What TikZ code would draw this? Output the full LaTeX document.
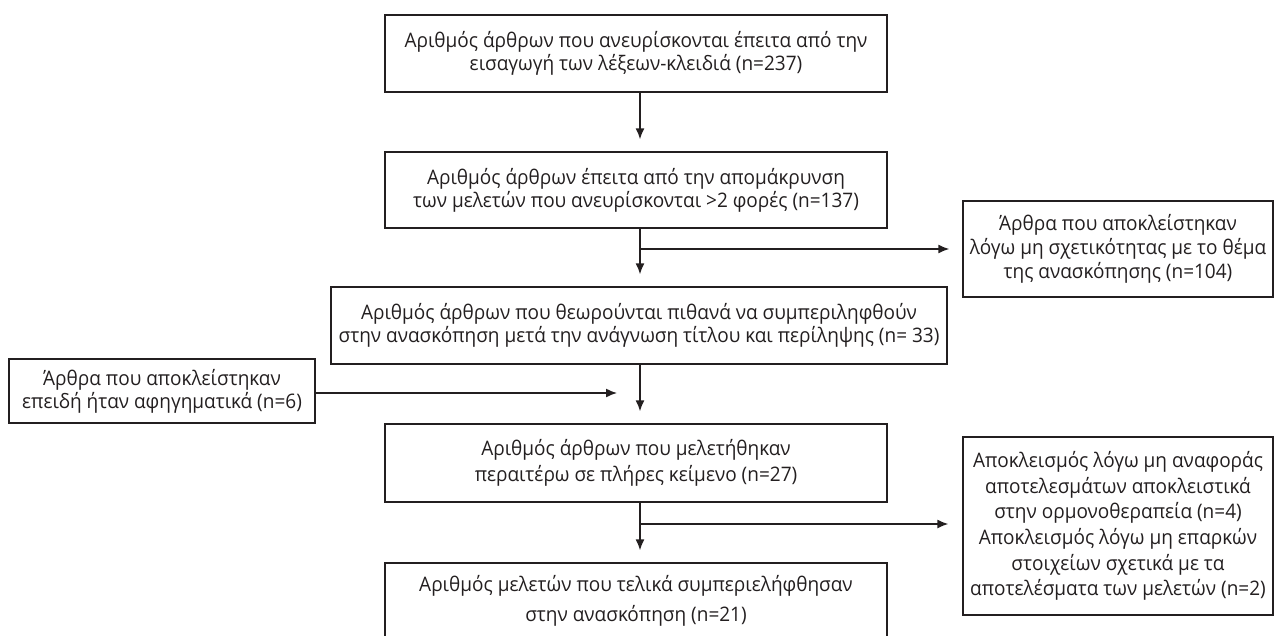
\documentclass[tikz,border=0pt]{standalone}
\usepackage{fontspec}
\setmainfont[FakeStretch=0.95]{Open Sans}
\usetikzlibrary{arrows.meta}
\definecolor{ink}{HTML}{231F20}
\tikzset{
  box/.style={draw=ink, line width=1.4pt, align=center, inner sep=0pt, text=ink,
    font=\fontsize{20}{23}\selectfont},
  arr/.style={draw=ink, line width=1.4pt, -{Latex[length=11pt,width=9pt]}},
}
\begin{document}
\begin{tikzpicture}[x=1pt,y=-1pt]
\useasboundingbox (0,0) rectangle (1274,635);
\node[box, minimum width=502pt, minimum height=77pt] (b1) at (636,53.5)
  {Αριθμός άρθρων που ανευρίσκονται έπειτα από την\\εισαγωγή των λέξεων-κλειδιά (n=237)};
\node[box, minimum width=502pt, minimum height=76pt] (b2) at (636,190)
  {Αριθμός άρθρων έπειτα από την απομάκρυνση\\των μελετών που ανευρίσκονται >2 φορές (n=137)};
\node[box, minimum width=310pt, minimum height=96pt, font=\fontsize{20}{24}\selectfont] (b3) at (1118,249)
  {Άρθρα που αποκλείστηκαν\\λόγω μη σχετικότητας με το θέμα\\της ανασκόπησης (n=104)};
\node[box, minimum width=616pt, minimum height=77pt] (b4) at (639,325.5)
  {Αριθμός άρθρων που θεωρούνται πιθανά να συμπεριληφθούν\\στην ανασκόπηση μετά την ανάγνωση τίτλου και περίληψης (n= 33)};
\node[box, minimum width=306pt, minimum height=64pt] (b5) at (162,391)
  {Άρθρα που αποκλείστηκαν\\επειδή ήταν αφηγηματικά (n=6)};
\node[box, minimum width=502pt, minimum height=78pt, font=\fontsize{20}{26}\selectfont] (b6) at (636,463)
  {Αριθμός άρθρων που μελετήθηκαν\\περαιτέρω σε πλήρες κείμενο (n=27)};
\node[box, minimum width=502pt, minimum height=76pt] (b7) at (636,601)
  {Αριθμός μελετών που τελικά συμπεριελήφθησαν\\[7pt]στην ανασκόπηση (n=21)};
\node[box, minimum width=310pt, minimum height=178pt, font=\fontsize{20}{25.7}\selectfont] (b8) at (1118,526)
  {Αποκλεισμός λόγω μη αναφοράς\\αποτελεσμάτων αποκλειστικά\\στην ορμονοθεραπεία (n=4)\\Αποκλεισμός λόγω μη επαρκών\\στοιχείων σχετικά με τα\\αποτελέσματα των μελετών (n=2)};
\coordinate (trunk) at (640,0);
\coordinate (j1) at (640,249);
\coordinate (j3) at (640,393);
\coordinate (j4) at (640,524);
\draw[arr, shorten >=12pt] (b1.south -| trunk) -- (b2.north -| trunk);
\draw[arr, shorten >=12pt] (b2.south -| trunk) -- (b4.north -| trunk);
\draw[arr, shorten >=13pt] (j1) -- (j1 -| b3.west);
\draw[arr, shorten >=12pt] (b4.south -| trunk) -- (b6.north -| trunk);
\draw[arr, shorten >=23pt] (b5.east |- j3) -- (j3);
\draw[arr, shorten >=12pt] (b6.south -| trunk) -- (b7.north -| trunk);
\draw[arr, shorten >=14pt] (j4) -- (j4 -| b8.west);
\end{tikzpicture}
\end{document}
